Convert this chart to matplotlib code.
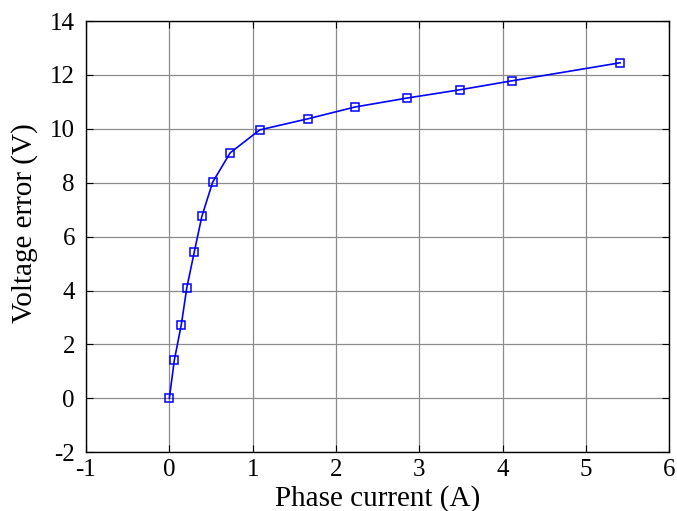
import matplotlib
matplotlib.use("Agg")
import matplotlib.pyplot as plt

current = [0.0, 0.06, 0.144, 0.21, 0.30, 0.39, 0.52, 0.73, 1.085, 1.66, 2.23, 2.85, 3.49, 4.11, 5.41]
verror = [0.0, 1.42, 2.74, 4.11, 5.44, 6.75, 8.02, 9.11, 9.96, 10.37, 10.81, 11.14, 11.45, 11.78, 12.45]
xticks = [-1, 0, 1, 2, 3, 4, 5, 6]
yticks = [-2, 0, 2, 4, 6, 8, 10, 12, 14]

plt.rcParams['font.family'] = ['Liberation Serif', 'DejaVu Serif']
plt.rcParams['axes.unicode_minus'] = False
fig = plt.figure(figsize=(6.77, 5.11), dpi=100)
ax = fig.add_axes([86/677, 1-452.3/511, (669.3-86)/677, (452.3-21)/511])
ax.plot(current, verror, color='#0000ff', lw=1.2, marker='s', markersize=5.5,
        markerfacecolor='none', markeredgecolor='#0000ff', markeredgewidth=1.1)
ax.set_xlim(-1, 6)
ax.set_ylim(-2, 14)
ax.set_xticks(xticks)
ax.set_yticks(yticks)
ax.grid(True, color='#8c8c8c', lw=0.9)
ax.tick_params(direction='in', top=True, right=True, labelsize=18, length=5)
ax.tick_params(axis='y', pad=8)
ax.tick_params(axis='x', pad=5)
for s in ax.spines.values():
    s.set_linewidth(1.0)
ax.set_xlabel('Phase current (A)', fontsize=21, labelpad=3)
ax.set_ylabel('Voltage error (V)', fontsize=21)
ax.yaxis.set_label_coords(-0.082, 0.532)
fig.savefig('out.png', dpi=100)
